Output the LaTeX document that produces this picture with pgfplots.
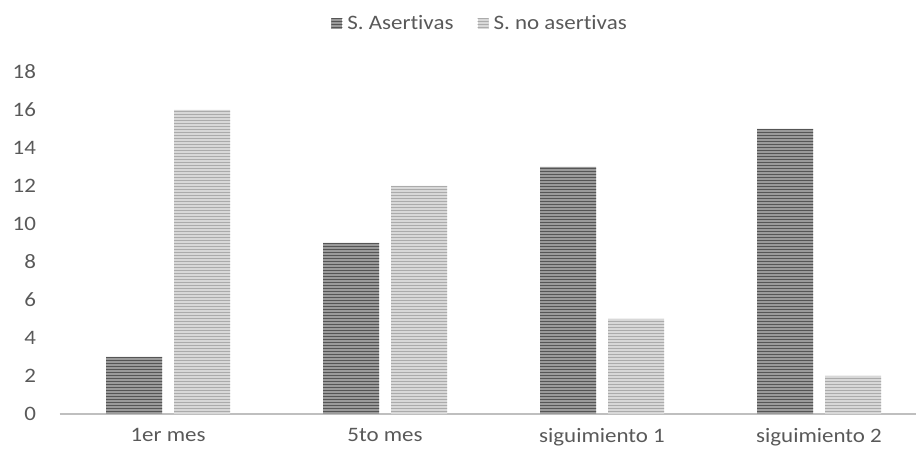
\documentclass[border=0pt]{standalone}
\usepackage{pgfplots}
\pgfplotsset{compat=1.18}
\usetikzlibrary{patterns}
\usepackage{fontspec}
\setmainfont{Carlito}[FakeStretch=1.12, Ligatures={NoCommon, NoDiscretionary}]
\definecolor{txt}{HTML}{595959}
\definecolor{axl}{HTML}{BFBFBF}
\definecolor{darkfill}{HTML}{9A9A9A}
\definecolor{darkline}{HTML}{555555}
\definecolor{lightfill}{HTML}{D8D8D8}
\definecolor{lightline}{HTML}{ABABAB}
\begin{document}
\begin{tikzpicture}[x=1pt,y=1pt]
\useasboundingbox (0,0) rectangle (916,460);
\begin{axis}[
  at={(59.5pt,46pt)}, anchor=south west,
  scale only axis, width=856.5pt, height=342pt,
  ybar=12pt, bar width=56pt,
  xmin=-0.5, xmax=3.447, ymin=0, ymax=18,
  xtick={0,1,2,3},
  xticklabels={1er mes,5to mes,siguimiento 1,siguimiento 2},
  ytick={0,2,...,18},
  axis x line*=bottom, axis y line*=left,
  x axis line style={draw=axl, line width=1.8pt, -},
  y axis line style={draw=none},
  tick style={draw=none},
  major tick length=0pt,
  ticklabel style={font=\fontsize{20.5}{23}\selectfont, text=txt},
  /pgf/number format/assume math mode=true,
  yticklabel style={anchor=east, xshift=-20pt},
  xticklabel style={yshift=-11pt},
  legend style={at={(0.491,1.143)}, anchor=center, draw=none, fill=none,
    legend columns=2, font=\fontsize{20.5}{23}\selectfont, text=txt,
    /tikz/every even column/.append style={column sep=22pt}},
  legend image code/.code={\fill[#1] (0pt,-5.5pt) rectangle (11pt,5.5pt);},
  clip=false,
]
\addplot[fill=darkfill, draw=none, postaction={pattern=horizontal lines, pattern color=darkline}]
  coordinates {(0,3) (1,9) (2,13) (3,15)};
\addlegendentry{\hspace{3pt}S. Asertivas}
\addplot[fill=lightfill, draw=none, postaction={pattern=horizontal lines, pattern color=lightline}]
  coordinates {(0,16) (1,12) (2,5) (3,2)};
\addlegendentry{\hspace{3pt}S. no asertivas}
\end{axis}
\end{tikzpicture}
\end{document}
